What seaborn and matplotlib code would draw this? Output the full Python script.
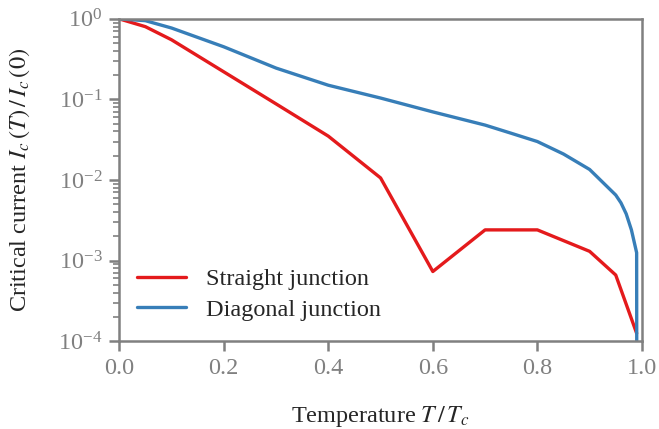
import numpy as np
import pandas as pd
import seaborn as sns
import matplotlib
matplotlib.use("Agg")
import matplotlib.pyplot as plt

# values
t_straight = [0.0, 0.05, 0.1, 0.2, 0.3, 0.4, 0.5, 0.6, 0.7, 0.8, 0.9, 0.95, 0.99]
ic_straight = [1.0, 0.8, 0.55, 0.22, 0.088, 0.035, 0.0106, 7.3e-4, 2.4e-3,
               2.4e-3, 1.3e-3, 6.6e-4, 1.25e-4]

t_diag = [0.0, 0.05, 0.1, 0.2, 0.3, 0.4, 0.5, 0.6, 0.7, 0.75, 0.8, 0.85,
          0.9, 0.95, 0.96, 0.97, 0.98, 0.99, 0.9905]
ic_diag = [1.0, 0.95, 0.77, 0.45, 0.245, 0.15, 0.104, 0.07, 0.048, 0.038,
           0.03, 0.021, 0.0135, 0.0065, 0.0052, 0.0038, 0.0024, 0.00125, 1e-6]

labels = ["Straight junction", "Diagonal junction"]
colors = ["#e41a1c", "#377eb8"]

df = pd.concat([
    pd.DataFrame({"T": t_straight, "Ic": ic_straight, "junction": labels[0]}),
    pd.DataFrame({"T": t_diag, "Ic": ic_diag, "junction": labels[1]}),
])

sns.set_style("ticks")
plt.rcParams['font.family'] = ['Liberation Serif', 'DejaVu Serif']
plt.rcParams['mathtext.fontset'] = 'stix'

grey = "#808080"
fs = 17.5
fig = plt.figure(figsize=(6.59, 4.29), dpi=100)
ax = fig.add_axes([0.181, 0.205, 0.793, 0.751])

sns.lineplot(data=df, x="T", y="Ic", hue="junction", palette=colors,
             linewidth=2.4, ax=ax, estimator=None)

ax.set_yscale("log")
ax.set_xlim(0, 1)
ax.set_ylim(1e-4, 1)
ax.set_xticks([0.0, 0.2, 0.4, 0.6, 0.8, 1.0])
ax.set_xticklabels(["0.0", "0.2", "0.4", "0.6", "0.8", "1.0"])

for s in ax.spines.values():
    s.set_color(grey)
    s.set_linewidth(1.8)
ax.tick_params(which="major", length=7, width=1.8, color=grey,
               labelcolor=grey, labelsize=fs, pad=5)
ax.tick_params(which="minor", length=4.5, width=1.2, color=grey)

ax.set_xlabel(r"Temperature $T\,/\,T_c$", fontsize=fs, labelpad=18)
ax.set_ylabel(r"Critical current $I_c\,(T)\,/\,I_c\,(0)$", fontsize=fs,
              labelpad=19)

leg = ax.legend(frameon=False, fontsize=fs, loc="lower left",
                bbox_to_anchor=(-0.007, -0.005), handlelength=2.0,
                labelspacing=0.35)
for line in leg.get_lines():
    line.set_linewidth(2.4)

fig.savefig("out.png", dpi=100)
